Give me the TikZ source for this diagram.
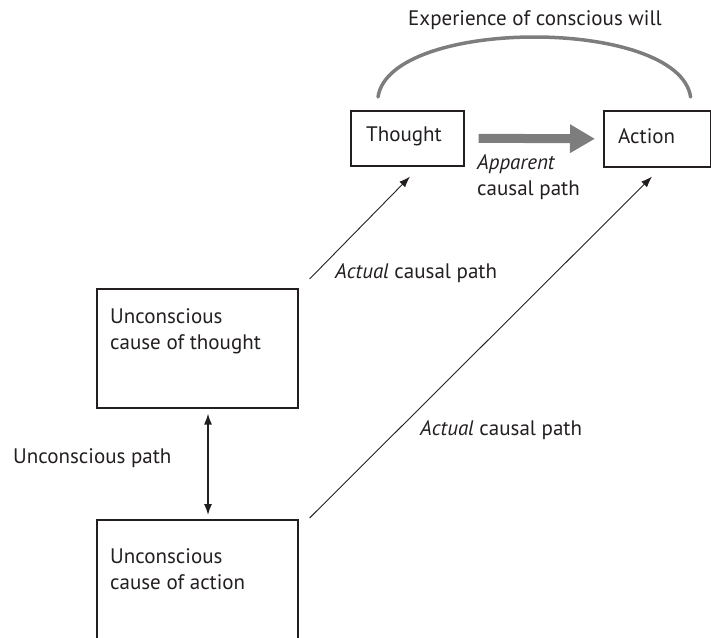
\documentclass[tikz,border=0pt]{standalone}
\usepackage{fontspec}
\setmainfont{PT Sans}
\usetikzlibrary{arrows.meta,calc}
\definecolor{ink}{HTML}{231F20}
\definecolor{midgray}{HTML}{7D7D7D}
\begin{document}
\begin{tikzpicture}[x=1pt,y=-1pt,
  box/.style={draw=ink, line width=1.6pt, inner sep=0pt, anchor=north west},
  lbl/.style={text=ink, font=\fontsize{21}{26}\selectfont, inner sep=0pt, anchor=west},
  blk/.style={text=ink, font=\fontsize{21}{26}\selectfont, inner sep=0pt, anchor=north west, align=left},
  thinarrow/.style={draw=ink, line width=0.9pt, -{Latex[length=11pt,width=8pt]}},
  dblarrow/.style={draw=ink, line width=1.3pt, {Latex[length=11pt,width=8pt]}-{Latex[length=11pt,width=8pt]}},
  bigarrow/.style={draw=midgray, line width=9pt, -{Triangle[length=25pt,width=27pt]}},
  willarc/.style={draw=midgray, line width=3.5pt, line cap=round}]
\useasboundingbox (0,0) rectangle (711,637);
\clip (0,0) rectangle (711,637);
% boxes
\node[box, minimum width=113pt, minimum height=55pt] (thought) at (350,110) {};
\node[box, minimum width=107pt, minimum height=56pt] (action) at (603,110) {};
\node[box, minimum width=201pt, minimum height=119pt] (uct) at (96,288) {};
\node[box, minimum width=201pt, minimum height=140pt] (uca) at (96,519) {};
% box texts
\node[lbl] (tthought) at (366,136) {Thought};
\node[lbl] (taction) at (618,136) {Action};
\node[blk] (tuct) at (110,308) {Unconscious\\cause of thought};
\node[blk] (tuca) at (110,548) {Unconscious\\cause of action};
% labels
\node[text=ink, font=\fontsize{21}{26}\selectfont, inner sep=0pt] (twill) at (535,20) {Experience of conscious will};
\node[blk] (tapp) at (477,154) {\itshape Apparent\\causal path};
\node[lbl] (tact1) at (335,273) {\itshape Actual\upshape{} causal path};
\node[lbl] (tact2) at (420,430) {\itshape Actual\upshape{} causal path};
\node[lbl] (tunc) at (13,458) {Unconscious path};
% connector ends
\coordinate (a1s) at ($(uct.north east)+(11,-9)$);
\coordinate (a1e) at ($(thought.south west)+(60,10)$);
\coordinate (a2s) at ($(uca.north east)+(11,-1)$);
\coordinate (a2e) at ($(action.south west)+(49,9)$);
\coordinate (ds) at ($(uct.south west)+(112,5)$);
\coordinate (de) at ($(uca.north west)+(112,-4)$);
\coordinate (gs) at ($(thought.east)+(14,0)$);
\coordinate (ge) at ($(action.west)+(-8,0)$);
\coordinate (arcl) at ($(thought.north west)+(28,-13)$);
\coordinate (arcr) at ($(action.north east)+(-21,-13)$);
% connectors
\draw[thinarrow] (a1s) -- (a1e);
\draw[thinarrow] (a2s) -- (a2e);
\draw[dblarrow] (ds) -- (de);
\draw[bigarrow] (gs) -- (ge);
\draw[willarc] (arcl) .. controls ($(arcl)+(12,-80)$) and ($(arcr)+(-12,-80)$) .. (arcr);
\end{tikzpicture}
\end{document}
